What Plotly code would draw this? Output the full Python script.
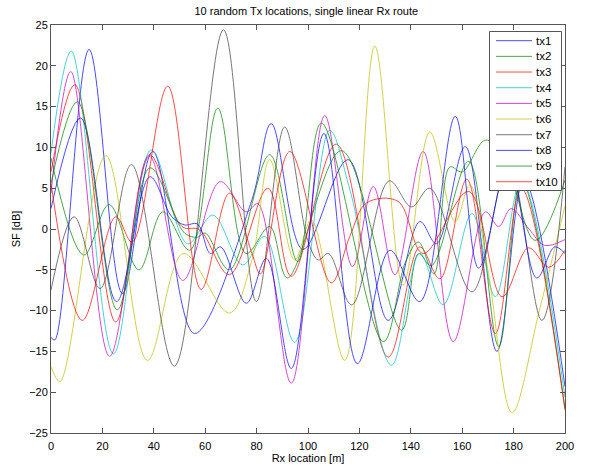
import plotly.graph_objects as go

names = ["tx1", "tx2", "tx3", "tx4", "tx5", "tx6", "tx7", "tx8", "tx9", "tx10"]
colors = ["#0000ff", "#008000", "#ff0000", "#00bfbf", "#bf00bf",
          "#bfbf00", "#404040", "#0000ff", "#008000", "#ff0000"]

tx1_x = [0, 1.5, 14.8, 27.8, 39.6, 55.8, 78.2, 85.7, 98, 115.6, 131.2, 143.5, 150, 161.2, 173.5, 184, 200]
tx1_y = [-13.3, -13.6, 22, -7.9, 9.5, -12.8, 3.6, 12.9, -2.5, 8.5, -11.2, 0.9, -1.8, 10.1, -15, 6, -19.3]

tx2_x = [0, 12.8, 22.6, 34.2, 43.5, 54, 64.9, 75.9, 85.1, 92, 113, 136.4, 143, 148, 162.5, 174.2, 183, 200]
tx2_y = [8.7, -3.2, 3.0, -5.0, 2.1, -2.6, 14.8, -3, 0.3, -6, 9.6, -12.4, -3, -4.5, 8.3, -14.4, 6, -22]

tx3_x = [0, 9.3, 25.2, 38.3, 51, 57.8, 69.4, 84.4, 93.5, 111, 131.2, 143.5, 151.3, 161.8, 172.9, 183, 200]
tx3_y = [7.0, 17.7, -11.4, 9.1, 0.3, -0.1, -5.6, 5.0, -5.8, 10.4, -15.7, -2.2, -6.1, 6.1, -12.8, 5, -22.2]

tx4_x = [0, 7.9, 24.3, 39, 53.2, 63, 74.6, 83.1, 94.8, 108.4, 116.3, 132.5, 143.5, 152.6, 163.8, 172.9, 183, 200]
tx4_y = [9.3, 21.8, -15.3, 9.7, -1.8, 1.7, -4.4, -0.9, -13.9, 12.1, 4.8, -16.7, -3, -9.3, 1.9, -8.3, 6, -20.6]

tx5_x = [0, 7.7, 22.8, 38.3, 51.3, 65.8, 75.9, 80.5, 93.5, 106.5, 117.3, 125.4, 133.8, 144.8, 156.5, 169, 174.2, 179, 186, 192, 200]
tx5_y = [4.4, 19.3, -15.6, 8.9, -6.3, 5.8, 2.1, 3.1, -18.9, 13.9, -4.6, 5.2, -5.6, 9.5, -13.8, 2.1, 0.3, 2.5, 0, -2, -1.3]

tx6_x = [0, 3.5, 21.3, 37.5, 51.5, 69.4, 78.2, 85.1, 94.8, 101.3, 114.3, 126, 137, 147.4, 157.2, 163, 170, 179.4, 190, 200]
tx6_y = [-16.9, -18.7, 9.0, -16.1, -3.0, -10.3, -3.8, 8.5, -3.8, 1.1, -16.1, 22.4, -6.9, 11.9, 0.9, 5.4, -5, -22.5, -10, 2.8]

tx7_x = [0, 9, 19.1, 31.3, 48, 67.1, 79.9, 90.9, 100, 104, 108, 117, 131.6, 140.3, 147.4, 163.8, 178, 191, 200]
tx7_y = [-7.5, 1.5, -7.3, 7.9, -16.8, 24.4, -8.9, 12.5, -1.5, -3.8, -3.0, -9.3, 5.9, 2.7, 5.0, -7.7, 8, -11.2, 7.6]

tx8_x = [0, 11.5, 25.5, 38.5, 47, 52, 57, 62, 66, 76, 83.8, 93.5, 106.2, 119.2, 131.9, 143.5, 157.3, 166.4, 178, 189, 196, 200]
tx8_y = [2.5, 13.6, -8.9, 6.4, 1.5, 0.5, 0.6, -3, -2.2, -9.1, -3.6, -17.1, 11.7, -16.5, -2.6, -8.9, 13.8, -4.8, 8, -6, -2.2, -3]

tx9_x = [0, 10.3, 25.8, 38.5, 52, 57, 60, 69.4, 85.1, 96, 105.2, 129.3, 138, 143, 149, 155.2, 160, 169, 176, 188.4, 200]
tx9_y = [5.6, 15.6, -9.9, 7.5, -0.5, -1.0, -0.5, -5, 9.1, -4, 13, -13.8, -4, -1.6, -5.5, 7.6, 7.0, 10.9, 9, -1.4, 6]

tx10_x = [0, 12.2, 25.2, 31.6, 45.4, 58.4, 69.4, 78.2, 81.5, 92.9, 109, 116.3, 122.8, 135, 144.8, 162.5, 175.5, 185.8, 193.6, 200]
tx10_y = [5.6, -11.2, 1.5, -1.6, 17.5, -7.4, 4.4, -3, -5.5, 9.5, -6.6, -0.9, 3.2, 3.4, -3, 4.6, -8.3, -2.3, -4.7, -2.6]

xs = [tx1_x, tx2_x, tx3_x, tx4_x, tx5_x, tx6_x, tx7_x, tx8_x, tx9_x, tx10_x]
ys = [tx1_y, tx2_y, tx3_y, tx4_y, tx5_y, tx6_y, tx7_y, tx8_y, tx9_y, tx10_y]

x_ticks = [0, 20, 40, 60, 80, 100, 120, 140, 160, 180, 200]
y_ticks = [-25, -20, -15, -10, -5, 0, 5, 10, 15, 20, 25]

W, H = 589, 470
ML, MR, MT, MB = 51, 24, 25, 37
PW, PH = W - ML - MR, H - MT - MB


def px_x(p):
    return (p - ML) / PW


def px_y(p):
    return (H - MB - p) / PH


fig = go.Figure()
for n, c, x, y in zip(names, colors, xs, ys):
    fig.add_trace(go.Scatter(x=x, y=y, name=n, mode="lines", showlegend=False,
                             line=dict(color=c, width=1, shape="spline", smoothing=1.0),
                             opacity=0.7))

font = "Liberation Sans, Arial, sans-serif"

# legend box (MATLAB-style, compact) built from names / colors
shapes = [dict(type="rect", xref="paper", yref="paper",
               x0=px_x(489.5), x1=px_x(561.5), y0=px_y(190.5), y1=px_y(31.5),
               fillcolor="white", line=dict(color="#555555", width=1), layer="above")]
annotations = []
for i, (n, c) in enumerate(zip(names, colors)):
    yy = px_y(40.7 + 15.67 * i)
    shapes.append(dict(type="line", xref="paper", yref="paper",
                       x0=px_x(496), x1=px_x(532), y0=yy, y1=yy,
                       line=dict(color=c, width=1), opacity=0.7, layer="above"))
    annotations.append(dict(text=n, xref="paper", yref="paper", x=px_x(534), y=yy,
                            xanchor="left", yanchor="middle", showarrow=False,
                            font=dict(family=font, size=11.5, color="black")))

axis_common = dict(showline=True, mirror="ticks", linecolor="#555555", linewidth=1,
                   ticks="inside", ticklen=5, tickcolor="#555555", showgrid=False,
                   zeroline=False, automargin=False,
                   tickfont=dict(family=font, size=11, color="black"))

fig.update_layout(
    width=W, height=H,
    margin=dict(l=ML, r=MR, t=MT, b=MB, autoexpand=False),
    paper_bgcolor="white", plot_bgcolor="white",
    title=dict(text="10 random Tx locations, single linear Rx route", x=0.52, xanchor="center",
               y=0.985, yanchor="top", font=dict(family=font, size=11, color="black")),
    xaxis=dict(range=[0, 200], tickvals=x_ticks, ticklabelstandoff=3, **axis_common,
               title=dict(text="Rx location [m]", font=dict(family=font, size=11, color="black"), standoff=3)),
    yaxis=dict(range=[-25, 25], tickvals=y_ticks, **axis_common,
               title=dict(text="SF [dB]", font=dict(family=font, size=11, color="black"), standoff=6)),
    shapes=shapes,
    annotations=annotations,
    showlegend=False,
)

fig.write_html("out.html")
